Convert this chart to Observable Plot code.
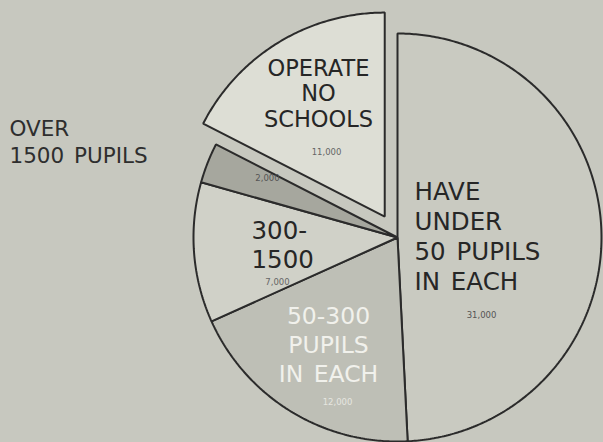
<!DOCTYPE html>
<html><head><meta charset="utf-8">
<script src="https://cdn.jsdelivr.net/npm/d3@7"></script>
<script src="https://cdn.jsdelivr.net/npm/@observablehq/plot@0.6"></script>
<style>
html,body{margin:0;padding:0;background:#c7c8bf;overflow:hidden}
#chart svg{display:block}
#chart svg text{word-spacing:3px}
</style></head><body><div id="chart"></div>
<script>
// ---- data ----
const categories = ["under50", "50to300", "300to1500", "over1500", "none"];
const values = [31000, 12000, 7000, 2000, 11000];
const valueLabels = ["31,000", "12,000", "7,000", "2,000", "11,000"];
const titles = ["HAVE\nUNDER\n50 PUPILS\nIN EACH", "50-300\nPUPILS\nIN EACH", "300-\n1500", "OVER\n1500 PUPILS", "OPERATE\nNO\nSCHOOLS"];

// ---- layout / style ----
const W = 603, H = 442, cx = 397, cy = 237, R = 204;
const fills = ["#c9cac1", "#bebfb6", "#d0d1c8", "#a6a79e", "#dddeD5"];
const explode = [0, 0, 0, 0, 0.12];
const FONT = "'DejaVu Sans', sans-serif";

const pie = d3.pie().sort(null).value(d => d)(values);
const points = [];
pie.forEach((p, i) => {
  const mid = (p.startAngle + p.endAngle) / 2;
  const ox = Math.sin(mid) * explode[i], oy = Math.cos(mid) * explode[i];
  points.push({key: categories[i], x: ox, y: oy});
  const n = Math.max(4, Math.ceil((p.endAngle - p.startAngle) / 0.01));
  for (let k = 0; k <= n; k++) {
    const a = p.startAngle + (p.endAngle - p.startAngle) * k / n;
    points.push({key: categories[i], x: ox + Math.sin(a), y: oy + Math.cos(a)});
  }
});

// label anchors in pixels converted to data units
const ux = px => (px - cx) / R, uy = py => (cy - py) / R;
const bigLabels = [
  {t: titles[0], x: ux(414), y: uy(235), anchor: "start", fill: "#262626", size: 24.5, lh: 1.22},
  {t: titles[1], x: ux(328), y: uy(343), anchor: "middle", fill: "#f1f1ec", size: 23.5, lh: 1.23},
  {t: titles[2], x: ux(251), y: uy(243.5), anchor: "start", fill: "#262626", size: 24.5, lh: 1.18},
  {t: titles[3], x: ux(9), y: uy(140.5), anchor: "start", fill: "#2e2e2e", size: 21.5, lh: 1.25},
  {t: titles[4], x: ux(318), y: uy(92.5), anchor: "middle", fill: "#262626", size: 22.5, lh: 1.13}
];
const smallLabels = [
  {t: valueLabels[0], x: ux(481), y: uy(315), fill: "#555"},
  {t: valueLabels[1], x: ux(337), y: uy(402), fill: "#e6e6e0"},
  {t: valueLabels[2], x: ux(277), y: uy(282), fill: "#666"},
  {t: valueLabels[3], x: ux(267), y: uy(178), fill: "#555"},
  {t: valueLabels[4], x: ux(326), y: uy(152), fill: "#666"}
];

const textMark = (rows) => rows.map(r => Plot.text([r], {
  x: "x", y: "y", text: "t", fill: r.fill, fontSize: r.size, lineHeight: r.lh,
  textAnchor: r.anchor, fontFamily: FONT
}));

const chart = Plot.plot({
  width: W, height: H, margin: 0,
  x: {domain: [ux(0), ux(W)], range: [0, W], axis: null},
  y: {domain: [uy(H), uy(0)], range: [H, 0], axis: null},
  color: {domain: categories, range: fills},
  style: {background: "transparent", overflow: "hidden"},
  marks: [
    Plot.line(points, {x: "x", y: "y", z: "key", fill: "key", stroke: "#2b2b2b", strokeWidth: 2, curve: "linear-closed", strokeLinejoin: "miter"}),
    ...textMark(bigLabels),
    Plot.text(smallLabels, {x: "x", y: "y", text: "t", fill: "fill", fontSize: 8.5, fontFamily: FONT, letterSpacing: 1.2})
  ]
});
document.getElementById("chart").appendChild(chart);
</script>
</body></html>
